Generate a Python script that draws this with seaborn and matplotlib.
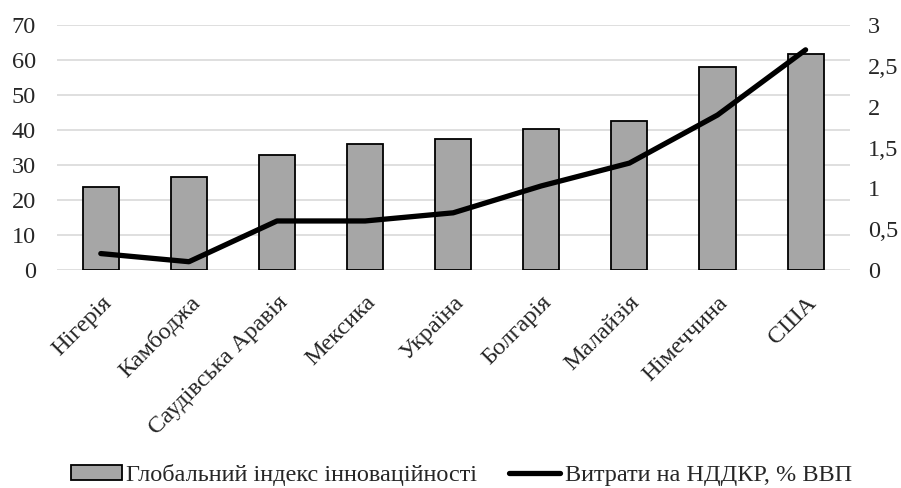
import matplotlib
matplotlib.use("Agg")
import matplotlib.pyplot as plt
import seaborn as sns
import numpy as np
import pandas as pd
from matplotlib.patches import Patch
from matplotlib.lines import Line2D

countries = ["Нігерія", "Камбоджа", "Саудівська Аравія", "Мексика", "Україна",
             "Болгарія", "Малайзія", "Німеччина", "США"]
gii = [23.8, 26.5, 32.9, 36.0, 37.4, 40.3, 42.6, 58.1, 61.7]
rnd = [0.2, 0.1, 0.6, 0.6, 0.7, 1.03, 1.31, 1.9, 2.7]
left_ticks = [0, 10, 20, 30, 40, 50, 60, 70]
right_ticks = [0, 0.5, 1, 1.5, 2, 2.5, 3]
right_labels = ["0", "0,5", "1", "1,5", "2", "2,5", "3"]
bar_label = "Глобальний індекс інноваційності"
line_label = "Витрати на НДДКР, % ВВП"

FS = 17.5

sns.set_theme(style="white")
plt.rcParams["font.family"] = ["Liberation Serif", "DejaVu Serif"]
plt.rcParams["font.size"] = FS

df = pd.DataFrame({"country": countries, "gii": gii, "rnd": rnd, "pos": np.arange(len(countries))})

fig = plt.figure(figsize=(9.01, 4.88), dpi=100)
ax = fig.add_axes([0.063, 0.447, 0.880, 0.501])

ax.yaxis.grid(True, color="#d9d9d9", linewidth=1.2)
ax.set_axisbelow(True)
sns.barplot(data=df, x="country", y="gii", color="#a6a6a6", edgecolor="black",
            linewidth=1.3, width=0.41, saturation=1, ax=ax, zorder=2)
ax.set_ylim(0, 70)
ax.set_yticks(left_ticks)
ax.set_xlim(-0.5, len(countries) - 0.5)
ax.set_xlabel("")
ax.set_ylabel("")
for s in ax.spines.values():
    s.set_visible(False)
ax.tick_params(axis="y", length=0, pad=15, labelsize=FS)
ax.tick_params(axis="x", length=0, pad=16, labelsize=FS)
ax.set_xticks(np.arange(len(countries)))
ax.set_xticklabels(countries, rotation=45, ha="right", rotation_mode="anchor")

ax2 = ax.twinx()
sns.lineplot(data=df, x="pos", y="rnd", color="black", linewidth=3.8, ax=ax2,
             solid_capstyle="round", zorder=3)
ax2.set_ylim(0, 3)
ax2.set_yticks(right_ticks)
ax2.set_yticklabels(right_labels)
ax2.set_ylabel("")
for s in ax2.spines.values():
    s.set_visible(False)
ax2.tick_params(axis="y", length=0, pad=13, labelsize=FS)
ax2.set_xlim(-0.5, len(countries) - 0.5)

handles = [Patch(facecolor="#a6a6a6", edgecolor="black", linewidth=1.3, label=bar_label),
           Line2D([0], [0], color="black", linewidth=3.8, solid_capstyle="round", label=line_label)]
fig.legend(handles=handles, loc="center", bbox_to_anchor=(0.512, 0.027), ncol=2,
           frameon=False, fontsize=FS, handlelength=2.1, handletextpad=0.2,
           columnspacing=1.3, handleheight=0.55, borderaxespad=0, borderpad=0)

fig.savefig("out.png", dpi=100)
